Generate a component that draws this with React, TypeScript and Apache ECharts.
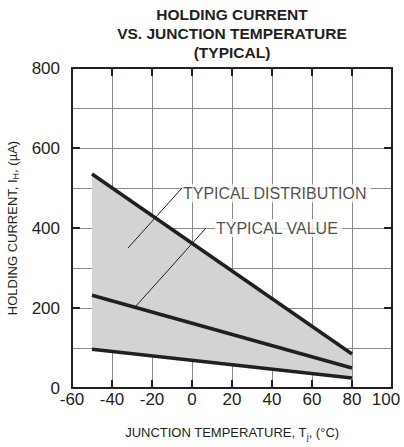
import { useEffect, useRef } from 'react';
import * as echarts from 'echarts';

// ---- data ----
const TITLE_LINES = ['HOLDING CURRENT', 'VS. JUNCTION TEMPERATURE', '(TYPICAL)'];
const TEMPERATURE_C = [-50, 80];
const UPPER_UA = [535, 85];
const TYPICAL_UA = [232, 50];
const LOWER_UA = [97, 25];
const X_MIN = -60;
const X_MAX = 100;
const X_STEP = 20;
const Y_MIN = 0;
const Y_MAX = 800;
const Y_STEP = 200;
const DIST_LEADER = [[-32, 350], [-5, 500]];
const VALUE_LEADER = [[-28, 205], [7, 400]];
const DIST_LABEL = { name: 'TYPICAL DISTRIBUTION', at: [-5, 487] };
const VALUE_LABEL = { name: 'TYPICAL VALUE', at: [11.5, 400] };

const FONT = '"Liberation Sans", Arial, Helvetica, sans-serif';
const INK = '#231f20';
const GRID = '#8a8a8a';
const FILL = '#d1d3d4';

const pairs = (xs: number[], ys: number[]) => xs.map((x, i) => [x, ys[i]]);

export default function App() {
  const ref = useRef<HTMLDivElement>(null);
  useEffect(() => {
    if (!ref.current) return;
    const chart = echarts.init(ref.current, null, { renderer: 'svg' });
    const axisLine = { show: true, onZero: false, lineStyle: { color: INK, width: 2 } };
    const tick = { show: true, inside: true, length: 8, lineStyle: { color: INK, width: 2 } };
    const nameRich = {
      sub: { fontSize: 9, fontFamily: FONT, color: INK, padding: [8, 0, 0, 0] },
    };
    const bandRows = TEMPERATURE_C.map((t, i) => [t, LOWER_UA[i], UPPER_UA[i]]);
    chart.setOption({
      animation: false,
      backgroundColor: '#fff',
      textStyle: { fontFamily: FONT },
      grid: { left: 72, right: 12, top: 68, bottom: 59, outerBoundsMode: 'none', containLabel: false },
      graphic: [
        {
          type: 'text',
          x: 232,
          y: 5,
          style: {
            text: TITLE_LINES.join('\n'),
            textAlign: 'center',
            align: 'center',
            textVerticalAlign: 'top',
            verticalAlign: 'top',
            fontSize: 15.5,
            fontWeight: 'bold',
            fontFamily: FONT,
            lineHeight: 19,
            fill: INK,
          },
        },
      ],
      xAxis: [
        {
          type: 'value',
          min: X_MIN,
          max: X_MAX,
          interval: X_STEP,
          position: 'bottom',
          axisLine,
          axisTick: tick,
          axisLabel: {
            fontSize: 17,
            color: INK,
            margin: 3,
            fontFamily: FONT,
            showMinLabel: true,
            showMaxLabel: true,
            hideOverlap: false,
            formatter: (v: number) => (v === X_MAX ? `{edge|${v}}` : `${v}`),
            rich: {
              edge: { fontSize: 17, color: INK, fontFamily: FONT, padding: [0, 12, 0, 0] },
            },
          },
          splitLine: { show: true, lineStyle: { color: GRID, width: 1 } },
          name: 'JUNCTION TEMPERATURE, T{sub|j}, (°C)',
          nameLocation: 'middle',
          nameGap: 36,
          nameTextStyle: { fontSize: 13, color: INK, fontFamily: FONT, rich: nameRich },
        },
        {
          type: 'value',
          min: X_MIN,
          max: X_MAX,
          interval: X_STEP,
          position: 'top',
          axisLine,
          axisTick: tick,
          axisLabel: { show: false },
          splitLine: { show: false },
        },
      ],
      yAxis: [
        {
          type: 'value',
          min: Y_MIN,
          max: Y_MAX,
          interval: Y_STEP,
          position: 'left',
          axisLine,
          axisTick: tick,
          axisLabel: { fontSize: 17, color: INK, margin: 12, fontFamily: FONT },
          splitLine: { show: true, lineStyle: { color: GRID, width: 1 } },
          minorTick: { show: false, splitNumber: 2 },
          minorSplitLine: { show: true, lineStyle: { color: GRID, width: 1 } },
          name: 'HOLDING CURRENT, I{sub|H}, (µA)',
          nameLocation: 'middle',
          nameRotate: 90,
          nameGap: 41,
          nameTextStyle: { fontSize: 13, color: INK, fontFamily: FONT, rich: nameRich },
        },
        {
          type: 'value',
          min: Y_MIN,
          max: Y_MAX,
          interval: Y_STEP,
          position: 'right',
          axisLine,
          axisTick: tick,
          axisLabel: { show: false },
          splitLine: { show: false },
        },
      ],
      series: [
        {
          name: 'band',
          type: 'custom',
          silent: true,
          data: bandRows,
          encode: { x: 0, y: [1, 2] },
          renderItem: (params: any, api: any) => {
            const i = params.dataIndex;
            if (i >= bandRows.length - 1) return null;
            const a = bandRows[i];
            const b = bandRows[i + 1];
            const pts = [
              api.coord([a[0], a[1]]),
              api.coord([b[0], b[1]]),
              api.coord([b[0], b[2]]),
              api.coord([a[0], a[2]]),
            ];
            return {
              type: 'polygon',
              shape: { points: pts },
              style: { fill: FILL, stroke: 'none' },
            };
          },
          z: 1,
        },
        {
          name: 'dist-leader',
          type: 'line',
          symbol: 'none',
          data: DIST_LEADER,
          lineStyle: { color: INK, width: 1 },
        },
        {
          name: 'value-leader',
          type: 'line',
          symbol: 'none',
          data: VALUE_LEADER,
          lineStyle: { color: INK, width: 1 },
        },
        {
          name: 'upper',
          type: 'line',
          symbol: 'none',
          data: pairs(TEMPERATURE_C, UPPER_UA),
          lineStyle: { color: INK, width: 3.5 },
        },
        {
          name: 'typical',
          type: 'line',
          symbol: 'none',
          data: pairs(TEMPERATURE_C, TYPICAL_UA),
          lineStyle: { color: INK, width: 3.5 },
        },
        {
          name: 'lower',
          type: 'line',
          symbol: 'none',
          data: pairs(TEMPERATURE_C, LOWER_UA),
          lineStyle: { color: INK, width: 3.5 },
        },
        {
          name: 'labels',
          type: 'scatter',
          symbolSize: 0,
          data: [
            { name: DIST_LABEL.name, value: DIST_LABEL.at },
            { name: VALUE_LABEL.name, value: VALUE_LABEL.at },
          ],
          label: {
            show: true,
            position: 'right',
            distance: 0,
            formatter: '{b}',
            fontSize: 16,
            fontFamily: FONT,
            color: INK,
            backgroundColor: '#fff',
            padding: [1, 4, 1, 1],
          },
          z: 5,
        },
      ],
    });
    return () => chart.dispose();
  }, []);
  return (
    <div
      ref={ref}
      style={{ position: 'fixed', left: 0, top: 0, width: 404, height: 447 }}
    />
  );
}
